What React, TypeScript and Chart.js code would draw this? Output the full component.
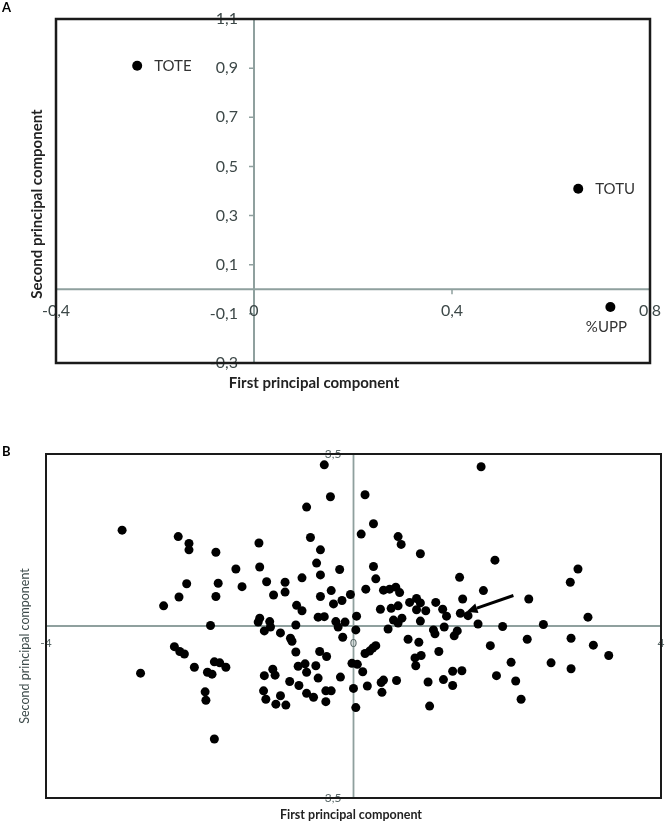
import React, { useEffect, useRef } from 'react';
import { Chart, registerables } from 'chart.js';

Chart.register(...registerables);

// ---------- Panel A: loadings ----------
const loadingNames = ['TOTE', 'TOTU', '%UPP'];
const loadingPC1 = [-0.236, 0.655, 0.72];
const loadingPC2 = [0.91, 0.409, -0.072];
const loadingLabelSide = ['right', 'right', 'below'];
const aXTicks = [-0.4, 0, 0.4, 0.8];
const aXTickLabels = ['-0,4', '0', '0,4', '0,8'];
const aYTicks = [1.1, 0.9, 0.7, 0.5, 0.3, 0.1, -0.1, -0.3];
const aYTickLabels = ['1,1', '0,9', '0,7', '0,5', '0,3', '0,1', '-0,1', '-0,3'];

// ---------- Panel B: scores ----------
const scoresPC1 = [
  -0.38, -0.3, -0.61, -3.01, -2.28, -2.14, -2.14, -0.56, -1.23, -1.79,
  -0.43, -1.53, -1.22, -0.48, -0.18, -0.43, -0.67, -2.17, -1.76, -1.45,
  -1.13, -0.89, -0.89, -1.04, -0.43, -0.29, -0.04, -0.15, -0.26, -2.27,
  -1.79, -2.47, -0.74, -0.67, -0.46, -0.38, -1.24, -1.22, -1.09, -0.75,
  -0.23, -0.11, -1.86, 0.04, 1.66, 0.15, 0.26, 0.1, 0.58, 0.62,
  0.87, 1.84, 2.92, 2.82, 0.26, 0.29, 0.16, 1.38, 1.69, 0.39,
  0.47, 0.55, 0.6, 0.73, 0.82, 0.87, 1.07, 1.42, 2.28, 0.35,
  0.49, 0.58, 0.82, 0.94, 1.16, 1.21, 1.39, 1.49, 0.52, 0.63,
  0.58, 0.87, 3.05, 1.62, 1.94, 2.47, 0.03, 0.45, 1.04, 1.06,
  1.18, 1.35, 1.31, 0.71, 0.85, 0.15, 0.21, 0.25, 0.29, 1.11,
  0.8, 0.88, 0.81, -0.02, 0.05, 0.12, 1.78, 2.26, 2.83, 3.12,
  3.32, 2.05, 2.57, 2.83, 1.29, 1.41, 1.86, 2.11, 2.18, 1.17,
  1.29, 0.97, 0.56, 0.39, 0.36, 0.37, 0.18, 0.0, 0.03, 0.99,
  -1.16, -1.08, -0.95, -0.82, -0.8, -0.75, -0.44, -0.35, -0.14, -2.33,
  -2.26, -2.2, -2.07, -1.81, -1.74, -1.66, -1.9, -1.84, -2.77, -1.05,
  -1.16, -1.02, -0.72, -0.63, -0.61, -0.49, -0.83, -0.71, -0.46, -0.17,
  -1.93, -1.92, -1.17, -1.14, -0.95, -1.01, -0.88, -0.61, -0.52, -0.36,
  -0.36, -0.29, -1.81, -0.2,
];
const scoresPC2 = [
  3.28, 2.63, 2.42, 1.95, 1.82, 1.68, 1.55, 1.8, 1.69, 1.5,
  1.55, 1.16, 1.2, 1.28, 1.15, 1.04, 0.98, 0.86, 0.87, 0.8,
  0.9, 0.89, 0.69, 0.63, 0.6, 0.72, 0.64, 0.52, 0.45, 0.59,
  0.6, 0.41, 0.42, 0.31, 0.18, 0.19, 0.08, 0.16, 0.09, 0.02,
  0.09, 0.08, 0.01, 0.2, 3.24, 2.67, 2.08, 1.87, 1.82, 1.66,
  1.47, 1.34, 1.16, 0.89, 1.21, 0.96, 0.75, 0.99, 0.72, 0.73,
  0.75, 0.79, 0.68, 0.48, 0.56, 0.47, 0.48, 0.55, 0.55, 0.34,
  0.36, 0.41, 0.33, 0.31, 0.34, 0.2, 0.26, 0.21, 0.12, 0.16,
  0.06, 0.1, 0.18, 0.04, -0.01, 0.03, -0.08, -0.06, -0.08, -0.16,
  -0.02, -0.1, -0.2, -0.27, -0.33, -0.56, -0.51, -0.45, -0.4, -0.52,
  -0.65, -0.6, -0.81, -0.76, -0.78, -0.93, -0.4, -0.27, -0.25, -0.39,
  -0.6, -0.74, -0.75, -0.87, -0.92, -0.91, -1.01, -1.12, -1.49, -1.09,
  -1.21, -1.14, -1.11, -1.1, -1.15, -1.35, -1.22, -1.27, -1.66, -1.63,
  -0.1, -0.02, -0.14, -0.25, -0.31, -0.53, -0.52, -0.62, -0.23, -0.42,
  -0.52, -0.57, -0.84, -0.73, -0.75, -0.84, -0.94, -0.98, -0.96, -0.88,
  -1.01, -1.0, -0.82, -0.77, -0.94, -0.81, -1.13, -1.21, -1.06, -1.04,
  -1.34, -1.51, -1.32, -1.49, -1.42, -1.59, -1.61, -1.37, -1.45, -1.54,
  -1.32, -1.32, -2.3, -0.02,
];
const bXTicks = [-4, 0, 4];
const bXTickLabels = ['-4', '0', '4'];
const bYTicks = [3.5, -3.5];
const bYTickLabels = ['3,5', '-3,5'];
const arrowTail = { x: 2.08, y: 0.62 };
const arrowHead = { x: 1.47, y: 0.29 };

const FONT = 'Lato, "Open Sans", sans-serif';

const decorPlugin = {
  id: 'pcaDecor',
  beforeDatasetsDraw(chart: any, _a: any, o: any) {
    const ctx = chart.ctx;
    const xs = chart.scales.x;
    const ys = chart.scales.y;
    const ca = chart.chartArea;
    const x0 = xs.getPixelForValue(0);
    const y0 = ys.getPixelForValue(0);
    ctx.save();
    // zero axes
    ctx.strokeStyle = o.axisColor;
    ctx.lineWidth = o.axisWidth;
    ctx.beginPath();
    ctx.moveTo(ca.left, y0);
    ctx.lineTo(ca.right, y0);
    ctx.moveTo(x0, ca.top);
    ctx.lineTo(x0, ca.bottom);
    ctx.stroke();
    if (o.tickLen) {
      ctx.lineWidth = 1.5;
      ctx.beginPath();
      o.yTicks.forEach((v: number) => {
        const py = ys.getPixelForValue(v);
        ctx.moveTo(x0 - o.tickLen, py);
        ctx.lineTo(x0, py);
      });
      o.xTicks.forEach((v: number) => {
        const px = xs.getPixelForValue(v);
        ctx.moveTo(px, y0);
        ctx.lineTo(px, y0 + o.tickLen);
      });
      ctx.stroke();
    }
    // tick labels
    ctx.fillStyle = o.tickColor;
    ctx.font = o.tickFont;
    ctx.textBaseline = 'middle';
    ctx.textAlign = 'right';
    o.yTicks.forEach((v: number, i: number) => {
      ctx.fillText(o.yLabels[i], x0 - o.yLabelGap, ys.getPixelForValue(v));
    });
    ctx.textAlign = 'center';
    o.xTicks.forEach((v: number, i: number) => {
      ctx.fillText(o.xLabels[i], xs.getPixelForValue(v), y0 + o.xLabelGap);
    });
    // frame
    ctx.strokeStyle = '#1a1a1a';
    ctx.lineWidth = o.frameWidth;
    ctx.strokeRect(ca.left, ca.top, ca.right - ca.left, ca.bottom - ca.top);
    // titles
    ctx.fillStyle = o.xTitleColor;
    ctx.font = o.xTitleFont;
    ctx.textAlign = 'center';
    ctx.fillText(o.xTitle, o.xTitlePos[0], o.xTitlePos[1]);
    ctx.save();
    ctx.translate(o.yTitlePos[0], o.yTitlePos[1]);
    ctx.rotate(-Math.PI / 2);
    ctx.fillStyle = o.yTitleColor;
    ctx.font = o.yTitleFont;
    ctx.fillText(o.yTitle, 0, 0);
    ctx.restore();
    // panel letter
    ctx.fillStyle = '#000';
    ctx.font = 'bold 13px ' + FONT;
    ctx.textAlign = 'left';
    ctx.fillText(o.panel, 2, o.panelY);
    ctx.restore();
  },
  afterDatasetsDraw(chart: any, _a: any, o: any) {
    const ctx = chart.ctx;
    const xs = chart.scales.x;
    const ys = chart.scales.y;
    ctx.save();
    if (o.pointLabels) {
      ctx.fillStyle = '#333';
      ctx.font = '15px ' + FONT;
      ctx.textBaseline = 'middle';
      o.pointLabels.forEach((name: string, i: number) => {
        const px = xs.getPixelForValue(o.pointX[i]);
        const py = ys.getPixelForValue(o.pointY[i]);
        if (o.pointSide[i] === 'below') {
          ctx.textAlign = 'center';
          ctx.fillText(name, px - 4, py + 20);
        } else {
          ctx.textAlign = 'left';
          ctx.fillText(name, px + 17, py);
        }
      });
    }
    if (o.arrow) {
      const tx = xs.getPixelForValue(o.arrow[0].x);
      const ty = ys.getPixelForValue(o.arrow[0].y);
      const hx = xs.getPixelForValue(o.arrow[1].x);
      const hy = ys.getPixelForValue(o.arrow[1].y);
      const ang = Math.atan2(hy - ty, hx - tx);
      const L = 11;
      const bx = hx - L * Math.cos(ang);
      const by = hy - L * Math.sin(ang);
      ctx.strokeStyle = '#000';
      ctx.fillStyle = '#000';
      ctx.lineWidth = 3;
      ctx.beginPath();
      ctx.moveTo(tx, ty);
      ctx.lineTo(bx, by);
      ctx.stroke();
      ctx.beginPath();
      ctx.moveTo(hx, hy);
      ctx.lineTo(bx + 5 * Math.sin(ang), by - 5 * Math.cos(ang));
      ctx.lineTo(bx - 5 * Math.sin(ang), by + 5 * Math.cos(ang));
      ctx.closePath();
      ctx.fill();
    }
    ctx.restore();
  },
};

function useScatter(ref: React.RefObject<HTMLCanvasElement>, build: () => any) {
  useEffect(() => {
    if (!ref.current) return;
    const chart = new Chart(ref.current, build());
    return () => chart.destroy();
  }, []);
}

export default function App() {
  const aRef = useRef<HTMLCanvasElement>(null);
  const bRef = useRef<HTMLCanvasElement>(null);

  useScatter(aRef, () => ({
    type: 'scatter',
    data: {
      datasets: [
        {
          data: loadingPC1.map((x, i) => ({ x, y: loadingPC2[i] })),
          backgroundColor: '#000',
          borderWidth: 0,
          pointRadius: 5,
          pointHoverRadius: 5,
        },
      ],
    },
    options: {
      animation: false,
      responsive: false,
      events: [],
      layout: { padding: { left: 56, top: 19, right: 16, bottom: 37 } },
      scales: {
        x: { type: 'linear', min: -0.4, max: 0.8, display: false },
        y: { type: 'linear', min: -0.3, max: 1.1, display: false },
      },
      plugins: {
        legend: { display: false },
        tooltip: { enabled: false },
        pcaDecor: {
          axisColor: '#8fa09e',
          axisWidth: 2,
          frameWidth: 2.5,
          tickLen: 5,
          xTicks: aXTicks,
          xLabels: aXTickLabels,
          yTicks: aYTicks,
          yLabels: aYTickLabels,
          tickColor: '#3d4848',
          tickFont: '16px ' + FONT,
          yLabelGap: 16,
          xLabelGap: 22,
          xTitle: 'First principal component',
          xTitleFont: 'bold 15px ' + FONT,
          xTitleColor: '#222',
          xTitlePos: [314, 383],
          yTitle: 'Second principal component',
          yTitleFont: 'bold 15px ' + FONT,
          yTitleColor: '#222',
          yTitlePos: [37, 204],
          panel: 'A',
          panelY: 8,
          pointLabels: loadingNames,
          pointX: loadingPC1,
          pointY: loadingPC2,
          pointSide: loadingLabelSide,
        },
      },
    },
    plugins: [decorPlugin],
  }));

  useScatter(bRef, () => ({
    type: 'scatter',
    data: {
      datasets: [
        {
          data: scoresPC1.map((x, i) => ({ x, y: scoresPC2[i] })),
          backgroundColor: '#000',
          borderWidth: 0,
          pointRadius: 4.5,
          pointHoverRadius: 4.5,
        },
      ],
    },
    options: {
      animation: false,
      responsive: false,
      events: [],
      layout: { padding: { left: 46, top: 34, right: 5, bottom: 26 } },
      scales: {
        x: { type: 'linear', min: -4, max: 4, display: false },
        y: { type: 'linear', min: -3.5, max: 3.5, display: false },
      },
      plugins: {
        legend: { display: false },
        tooltip: { enabled: false },
        pcaDecor: {
          axisColor: '#8fa09e',
          axisWidth: 1.8,
          frameWidth: 2,
          tickLen: 0,
          xTicks: bXTicks,
          xLabels: bXTickLabels,
          yTicks: bYTicks,
          yLabels: bYTickLabels,
          tickColor: '#5a6868',
          tickFont: '12px ' + FONT,
          yLabelGap: 12,
          xLabelGap: 17,
          xTitle: 'First principal component',
          xTitleFont: 'bold 12.5px ' + FONT,
          xTitleColor: '#222',
          xTitlePos: [351, 395],
          yTitle: 'Second principal component',
          yTitleFont: '12.5px ' + FONT,
          yTitleColor: '#3d4b4b',
          yTitlePos: [25, 226],
          panel: 'B',
          panelY: 32,
          arrow: [arrowTail, arrowHead],
        },
      },
    },
    plugins: [decorPlugin],
  }));

  return (
    <div style={{ position: 'absolute', left: 0, top: 0, width: 666, height: 824, background: '#fff' }}>
      <canvas ref={aRef} width={666} height={400} style={{ position: 'absolute', left: 0, top: 0, width: 666, height: 400 }} />
      <canvas ref={bRef} width={666} height={404} style={{ position: 'absolute', left: 0, top: 420, width: 666, height: 404 }} />
    </div>
  );
}
